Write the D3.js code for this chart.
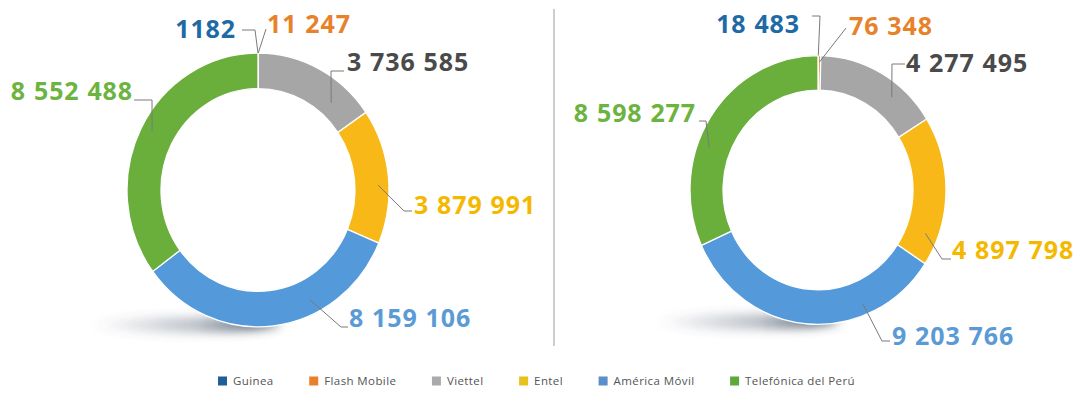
<!DOCTYPE html>
<html>
<head>
<meta charset="utf-8">
<script src="https://cdn.jsdelivr.net/npm/d3@7/dist/d3.min.js"></script>
<style>
  html, body { margin: 0; padding: 0; background: #fff; }
  svg { display: block; }
  .val { font-family: "Open Sans", sans-serif; font-weight: 700; font-size: 25px; letter-spacing: 0.9px; word-spacing: 0.5px; }
  .leg { font-family: "Open Sans", sans-serif; font-size: 11.5px; fill: #555; letter-spacing: 0.4px; }
</style>
</head>
<body>
<script>
// ---------- DATA ----------
const categories = ["Guinea", "Flash Mobile", "Viettel", "Entel", "América Móvil", "Telefónica del Perú"];
const valuesLeft  = [1182, 11247, 3736585, 3879991, 8159106, 8552488];
const valuesRight = [18483, 76348, 4277495, 4897798, 9203766, 8598277];

// ---------- STYLE ----------
const ringColors   = ["#1f5f99", "#e8822a", "#a6a6a6", "#f8b918", "#5499d9", "#6aae3c"];
const labelColors  = ["#1d6aa5", "#e8822a", "#4a4a4a", "#f5b800", "#5b9bd5", "#6db33f"];
const legendColors = ["#1f5f99", "#e8822a", "#aaaaaa", "#e8c21c", "#5b8fc9", "#5fa83a"];

const W = 1081, H = 406;
const svg = d3.select("body").append("svg").attr("width", W).attr("height", H);

const defs = svg.append("defs");
defs.append("filter").attr("id", "blur").attr("x", "-50%").attr("y", "-300%").attr("width", "200%").attr("height", "700%")
  .append("feGaussianBlur").attr("stdDeviation", 5);
const grad = defs.append("linearGradient").attr("id", "shadowGrad").attr("x1", "0").attr("x2", "1").attr("y1", "0").attr("y2", "0");
grad.append("stop").attr("offset", "0%").attr("stop-color", "#46556a").attr("stop-opacity", 0);
grad.append("stop").attr("offset", "55%").attr("stop-color", "#46556a").attr("stop-opacity", 0.35);
grad.append("stop").attr("offset", "85%").attr("stop-color", "#3a475a").attr("stop-opacity", 0.75);
grad.append("stop").attr("offset", "100%").attr("stop-color", "#3a475a").attr("stop-opacity", 0.6);

// number format: space thousands separator, none for 4-digit numbers
const grp = d3.formatLocale({decimal: ",", thousands: " ", grouping: [3], currency: ["", ""]}).format(",d");
const fmt = v => v < 10000 ? String(v) : grp(v);

// ---------- LAYOUT (label leaders, relative to donut centre) ----------
// t: fraction along the slice, r: radius for the leader start, pts: further leader points, tx/ty/anchor: label
const layoutLeft = [
  {t: 0.5,  r: 131, pts: [[-3, -160], [-16, -160]], tx: -22, ty: -152, anchor: "end"},
  {t: 0.5,  r: 131, pts: [[8, -161]],               tx: 9,   ty: -157, anchor: "start"},
  {t: 0.743,r: 111, pts: [[73, -119], [86, -119]],  tx: 89,  ty: -119, anchor: "start"},
  {t: 0.562,r: 120, pts: [[146, 21], [154, 21]],    tx: 156, ty: 24,   anchor: "start"},
  {t: 0.339,r: 117, pts: [[83, 137], [90, 137]],    tx: 91,  ty: 137,  anchor: "start"},
  {t: 0.51, r: 120, pts: [[-106, -90], [-124, -90]],tx: -125,ty: -90,  anchor: "end"}
];
const layoutRight = [
  {t: 0.5,  r: 128, pts: [[2, -174], [-6, -174]],   tx: -18, ty: -157, anchor: "end"},
  {t: 0.5,  r: 122, pts: [[28, -162]],              tx: 31,  ty: -155, anchor: "start"},
  {t: 0.679,r: 115, pts: [[74, -126], [87, -126]],  tx: 88,  ty: -118, anchor: "start"},
  {t: 0.812,r: 115, pts: [[124, 69], [133, 69]],    tx: 134, ty: 69,   anchor: "start"},
  {t: 0.28, r: 117, pts: [[64, 151], [72, 151]],    tx: 74,  ty: 155,  anchor: "start"},
  {t: 0.39, r: 116, pts: [[-112, -69], [-119, -69]],tx: -122,ty: -68,  anchor: "end"}
];

const charts = [
  {values: valuesLeft,  cx: 258, cy: 190, outer: 131, inner: 97, sy: 1.045, layout: layoutLeft},
  {values: valuesRight, cx: 818, cy: 190, outer: 128, inner: 95, sy: 1.05,  layout: layoutRight}
];

const pie = d3.pie().sort(null).value(d => d).startAngle(0).endAngle(2 * Math.PI);

charts.forEach(c => {
  const g = svg.append("g").attr("transform", `translate(${c.cx},${c.cy})`);
  // shadow
  g.append("ellipse")
    .attr("cx", -c.outer * 0.55).attr("cy", c.outer * 1.03)
    .attr("rx", c.outer * 0.72).attr("ry", 8)
    .attr("fill", "url(#shadowGrad)")
    .attr("filter", "url(#blur)");

  const arcs = pie(c.values);
  const arc = d3.arc().innerRadius(c.inner).outerRadius(c.outer);
  const ring = g.append("g").attr("transform", `scale(1,${c.sy})`);
  ring.selectAll("path").data(arcs).join("path")
    .attr("d", arc)
    .attr("fill", (d, i) => ringColors[i])
    .attr("stroke", "#ffffff")
    .attr("stroke-width", 1.3)
    .attr("vector-effect", "non-scaling-stroke");

  // leaders
  arcs.forEach((d, i) => {
    const L = c.layout[i];
    const a = d.startAngle + L.t * (d.endAngle - d.startAngle);
    const start = [L.r * Math.sin(a), -L.r * Math.cos(a) * c.sy];
    const pts = [start].concat(L.pts);
    g.append("path")
      .attr("d", d3.line()(pts))
      .attr("fill", "none")
      .attr("stroke", "#7a7a7a")
      .attr("stroke-width", 1);
    g.append("text")
      .attr("class", "val")
      .attr("x", L.tx).attr("y", L.ty)
      .attr("text-anchor", L.anchor)
      .attr("fill", labelColors[i])
      .text(fmt(d.data));
  });
});

// divider
svg.append("line")
  .attr("x1", 554).attr("x2", 554).attr("y1", 9).attr("y2", 346)
  .attr("stroke", "#bdbdbd").attr("stroke-width", 1.5);

// legend: laid out sequentially between legendStart and legendEnd
const legendStart = 218, legendEnd = 855, legendY = 381, sq = 9, sqGap = 6;
const lg = svg.append("g");
const items = categories.map((name, i) => {
  const it = lg.append("g");
  it.append("rect").attr("x", 0).attr("y", legendY - sq / 2).attr("width", sq).attr("height", sq).attr("fill", legendColors[i]);
  const t = it.append("text").attr("class", "leg").attr("x", sq + sqGap).attr("y", legendY + 4.2).text(name);
  return {g: it, w: sq + sqGap + t.node().getComputedTextLength()};
});
const totalW = d3.sum(items, d => d.w);
const gap = (legendEnd - legendStart - totalW) / (items.length - 1);
let xPos = legendStart;
items.forEach(it => { it.g.attr("transform", `translate(${xPos},0)`); xPos += it.w + gap; });
</script>
</body>
</html>
